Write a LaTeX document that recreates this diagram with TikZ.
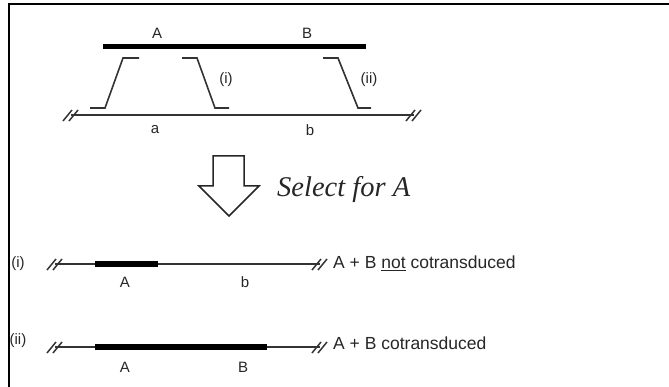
\documentclass[tikz,border=0pt]{standalone}
\usepackage{fontspec}
\usetikzlibrary{calc}
\setmainfont{Liberation Sans}
\newfontfamily\selfont{Liberation Serif}
\begin{document}
\begin{tikzpicture}[x=1pt,y=-1pt,
  chrom/.style={line width=1.8pt,draw=black!80},
  donor/.style={line width=5pt,draw=black,line cap=butt},
  xover/.style={line width=1.6pt,draw=black!80,line join=miter},
  lbl/.style={inner sep=0pt,text=black!85,font=\fontsize{15}{17}\selectfont},
  txt/.style={inner sep=0pt,anchor=west,text=black!85,font=\fontsize{17.5}{19}\selectfont},
  brk/.style={line width=1.5pt,draw=black!80}]
\useasboundingbox (0,0) rectangle (669,387);
% frame (top and left edges)
\draw[line width=2pt] (9,387) -- (9,4.5) -- (669,4.5);

% ---------- top: donor fragment and recipient chromosome ----------
\coordinate (dL) at (103,47);
\coordinate (dR) at (366,47);
\draw[donor] (dL) -- (dR);
\node[lbl] (lA) at (157,33) {A};
\node[lbl] (lB) at (307,33) {B};

\coordinate (cL) at (71,115);
\coordinate (cR) at (414,115);
\draw[chrom] (cL) -- (cR);
\foreach \c in {cL,cR}{
  \draw[brk] ($(\c)+(-8,6)$) -- ($(\c)+(1,-5)$);
  \draw[brk] ($(\c)+(-2,6)$) -- ($(\c)+(7,-5)$);
}
\node[lbl] (la) at (155,130) {a};
\node[lbl] (lb) at (310,130) {b};

% crossovers
\draw[xover] (90,108) -- (105,108) -- (123,58) -- (139,58);
\draw[xover] (182,58) -- (197,58) -- (215,108) -- (229,108);
\draw[xover] (323,58) -- (338,58) -- (358,108) -- (371,108);
\node[lbl] (xi) at (226,80) {(i)};
\node[lbl] (xii) at (369,80) {(ii)};

% ---------- hollow selection arrow ----------
\draw[line width=1.5pt,draw=black!85,line join=miter]
  (213,156) -- (244,156) -- (244,186) -- (259,186) -- (229,216)
  -- (199,186) -- (213,186) -- cycle;
\node[inner sep=0pt,anchor=west,text=black!85,font=\selfont\itshape\fontsize{28.5}{30}\selectfont]
  (sel) at (277,190) {Select for A};

% ---------- outcome (i) ----------
\coordinate (iL) at (55,264);
\coordinate (iR) at (320,264);
\draw[chrom] (iL) -- (iR);
\draw[donor,line width=5.5pt] (95,264) -- (158,264);
\node[lbl] (ri) at (18,264) {(i)};
\node[lbl] (iA) at (125,282) {A};
\node[lbl] (ib) at (245,282) {b};
\node[txt] (ti) at (333,263) {A + B \underline{not} cotransduced};

% ---------- outcome (ii) ----------
\coordinate (jL) at (55,347);
\coordinate (jR) at (320,347);
\draw[chrom] (jL) -- (jR);
\draw[donor,line width=5.5pt] (95,347) -- (267,347);
\node[lbl] (rii) at (18,341) {(ii)};
\node[lbl] (jA) at (125,367) {A};
\node[lbl] (jB) at (243,367) {B};
\node[txt] (tii) at (333,343) {A + B cotransduced};

\foreach \c in {iL,iR,jL,jR}{
  \draw[brk] ($(\c)+(-8,6)$) -- ($(\c)+(1,-5)$);
  \draw[brk] ($(\c)+(-2,6)$) -- ($(\c)+(7,-5)$);
}
\end{tikzpicture}
\end{document}
